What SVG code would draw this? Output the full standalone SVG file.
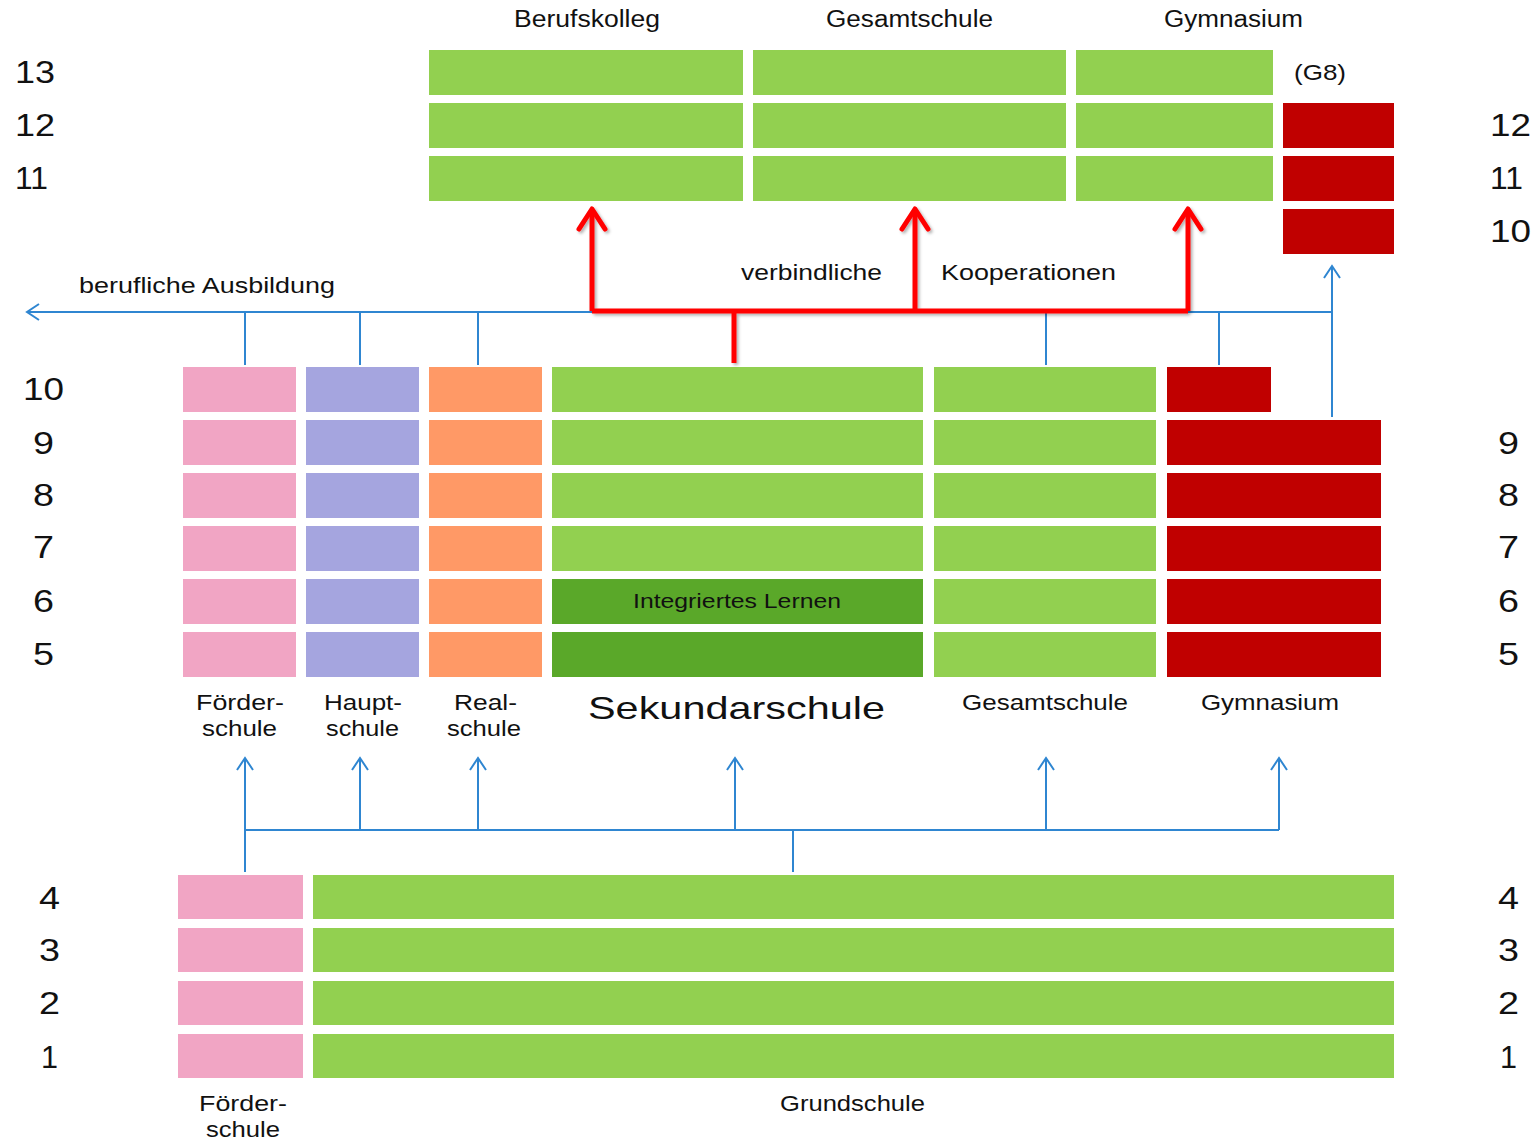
<svg xmlns="http://www.w3.org/2000/svg" width="1539" height="1140" viewBox="0 0 1539 1140">
<style>
text{font-family:"Liberation Sans",Arial,sans-serif;fill:#111}
.num{font-size:31px}
.lbl{font-size:22px}
.top{font-size:23px}
.g{fill:#92D050}
.dg{fill:#5AA829}
.pk{fill:#F1A5C4}
.pu{fill:#A5A5DF}
.or{fill:#FF9966}
.rd{fill:#C00000}
.bl{stroke:#2F86D1;stroke-width:2;fill:none}
.rl{stroke:#FF0000;stroke-width:5;fill:none}
</style>
<defs>
<marker id="ab" markerUnits="userSpaceOnUse" viewBox="-14 -10 16 20" refX="0" refY="0" markerWidth="16" markerHeight="20" orient="auto" overflow="visible">
<path d="M-12,-8 L0,0 L-12,8" fill="none" stroke="#2F86D1" stroke-width="2"/>
</marker>
<marker id="ar" markerUnits="userSpaceOnUse" viewBox="-26 -18 30 36" refX="0" refY="0" markerWidth="30" markerHeight="36" orient="auto" overflow="visible">
<path d="M-20,-13 L0,0 L-20,13" fill="none" stroke="#FF0000" stroke-width="5" stroke-linecap="round" stroke-linejoin="round"/>
</marker>
<filter id="sh" x="-5%" y="-20%" width="110%" height="140%">
<feDropShadow dx="2" dy="2" stdDeviation="1.5" flood-color="#000" flood-opacity="0.3"/>
</filter>
</defs>

<g id="grade-numbers">
<text class="num" x="15" y="83" textLength="40" lengthAdjust="spacingAndGlyphs">13</text>
<text class="num" x="15" y="136" textLength="40" lengthAdjust="spacingAndGlyphs">12</text>
<text class="num" x="15" y="189" textLength="33" lengthAdjust="spacingAndGlyphs">11</text>
<text class="num" x="1490" y="136" textLength="41" lengthAdjust="spacingAndGlyphs">12</text>
<text class="num" x="1490" y="189" textLength="33" lengthAdjust="spacingAndGlyphs">11</text>
<text class="num" x="1490" y="242" textLength="41" lengthAdjust="spacingAndGlyphs">10</text>
<text class="num" x="23" y="400" textLength="41" lengthAdjust="spacingAndGlyphs">10</text>
<text class="num" x="33" y="454" textLength="21" lengthAdjust="spacingAndGlyphs">9</text>
<text class="num" x="33" y="506" textLength="21" lengthAdjust="spacingAndGlyphs">8</text>
<text class="num" x="33" y="558" textLength="21" lengthAdjust="spacingAndGlyphs">7</text>
<text class="num" x="33" y="612" textLength="21" lengthAdjust="spacingAndGlyphs">6</text>
<text class="num" x="33" y="665" textLength="21" lengthAdjust="spacingAndGlyphs">5</text>
<text class="num" x="1498" y="454" textLength="21" lengthAdjust="spacingAndGlyphs">9</text>
<text class="num" x="1498" y="506" textLength="21" lengthAdjust="spacingAndGlyphs">8</text>
<text class="num" x="1498" y="558" textLength="21" lengthAdjust="spacingAndGlyphs">7</text>
<text class="num" x="1498" y="612" textLength="21" lengthAdjust="spacingAndGlyphs">6</text>
<text class="num" x="1498" y="665" textLength="21" lengthAdjust="spacingAndGlyphs">5</text>
<text class="num" x="39" y="909" textLength="21" lengthAdjust="spacingAndGlyphs">4</text>
<text class="num" x="39" y="961" textLength="21" lengthAdjust="spacingAndGlyphs">3</text>
<text class="num" x="39" y="1014" textLength="21" lengthAdjust="spacingAndGlyphs">2</text>
<text class="num" x="41" y="1068" textLength="17" lengthAdjust="spacingAndGlyphs">1</text>
<text class="num" x="1498" y="909" textLength="21" lengthAdjust="spacingAndGlyphs">4</text>
<text class="num" x="1498" y="961" textLength="21" lengthAdjust="spacingAndGlyphs">3</text>
<text class="num" x="1498" y="1014" textLength="21" lengthAdjust="spacingAndGlyphs">2</text>
<text class="num" x="1500" y="1068" textLength="17" lengthAdjust="spacingAndGlyphs">1</text>
</g>

<g id="berufskolleg">
<text class="top" x="514" y="27" textLength="146" lengthAdjust="spacingAndGlyphs">Berufskolleg</text>
<rect class="g" x="429" y="50" width="314" height="45"/>
<rect class="g" x="429" y="103" width="314" height="45"/>
<rect class="g" x="429" y="156" width="314" height="45"/>
</g>
<g id="gesamtschule-oberstufe">
<text class="top" x="826" y="27" textLength="167" lengthAdjust="spacingAndGlyphs">Gesamtschule</text>
<rect class="g" x="753" y="50" width="313" height="45"/>
<rect class="g" x="753" y="103" width="313" height="45"/>
<rect class="g" x="753" y="156" width="313" height="45"/>
</g>
<g id="gymnasium-oberstufe">
<text class="top" x="1164" y="27" textLength="139" lengthAdjust="spacingAndGlyphs">Gymnasium</text>
<rect class="g" x="1076" y="50" width="197" height="45"/>
<rect class="g" x="1076" y="103" width="197" height="45"/>
<rect class="g" x="1076" y="156" width="197" height="45"/>
</g>
<g id="gymnasium-g8">
<text class="lbl" x="1294" y="80" textLength="52" lengthAdjust="spacingAndGlyphs">(G8)</text>
<rect class="rd" x="1283" y="103" width="111" height="45"/>
<rect class="rd" x="1283" y="156" width="111" height="45"/>
<rect class="rd" x="1283" y="209" width="111" height="45"/>
</g>

<g id="foerderschule-sek">
<rect class="pk" x="183" y="367" width="113" height="45"/>
<rect class="pk" x="183" y="420" width="113" height="45"/>
<rect class="pk" x="183" y="473" width="113" height="45"/>
<rect class="pk" x="183" y="526" width="113" height="45"/>
<rect class="pk" x="183" y="579" width="113" height="45"/>
<rect class="pk" x="183" y="632" width="113" height="45"/>
<text class="lbl" x="196" y="710" textLength="88" lengthAdjust="spacingAndGlyphs">Förder-</text>
<text class="lbl" x="202" y="736" textLength="75" lengthAdjust="spacingAndGlyphs">schule</text>
</g>
<g id="hauptschule">
<rect class="pu" x="306" y="367" width="113" height="45"/>
<rect class="pu" x="306" y="420" width="113" height="45"/>
<rect class="pu" x="306" y="473" width="113" height="45"/>
<rect class="pu" x="306" y="526" width="113" height="45"/>
<rect class="pu" x="306" y="579" width="113" height="45"/>
<rect class="pu" x="306" y="632" width="113" height="45"/>
<text class="lbl" x="324" y="710" textLength="78" lengthAdjust="spacingAndGlyphs">Haupt-</text>
<text class="lbl" x="326" y="736" textLength="73" lengthAdjust="spacingAndGlyphs">schule</text>
</g>
<g id="realschule">
<rect class="or" x="429" y="367" width="113" height="45"/>
<rect class="or" x="429" y="420" width="113" height="45"/>
<rect class="or" x="429" y="473" width="113" height="45"/>
<rect class="or" x="429" y="526" width="113" height="45"/>
<rect class="or" x="429" y="579" width="113" height="45"/>
<rect class="or" x="429" y="632" width="113" height="45"/>
<text class="lbl" x="454" y="710" textLength="63" lengthAdjust="spacingAndGlyphs">Real-</text>
<text class="lbl" x="447" y="736" textLength="74" lengthAdjust="spacingAndGlyphs">schule</text>
</g>
<g id="sekundarschule">
<rect class="g" x="552" y="367" width="371" height="45"/>
<rect class="g" x="552" y="420" width="371" height="45"/>
<rect class="g" x="552" y="473" width="371" height="45"/>
<rect class="g" x="552" y="526" width="371" height="45"/>
<rect class="dg" x="552" y="579" width="371" height="45"/>
<rect class="dg" x="552" y="632" width="371" height="45"/>
<text style="font-size:20px" x="633" y="608" textLength="208" lengthAdjust="spacingAndGlyphs">Integriertes Lernen</text>
<text style="font-size:32px" x="588" y="719" textLength="297" lengthAdjust="spacingAndGlyphs">Sekundarschule</text>
</g>
<g id="gesamtschule">
<rect class="g" x="934" y="367" width="222" height="45"/>
<rect class="g" x="934" y="420" width="222" height="45"/>
<rect class="g" x="934" y="473" width="222" height="45"/>
<rect class="g" x="934" y="526" width="222" height="45"/>
<rect class="g" x="934" y="579" width="222" height="45"/>
<rect class="g" x="934" y="632" width="222" height="45"/>
<text class="lbl" x="962" y="710" textLength="166" lengthAdjust="spacingAndGlyphs">Gesamtschule</text>
</g>
<g id="gymnasium">
<rect class="rd" x="1167" y="367" width="104" height="45"/>
<rect class="rd" x="1167" y="420" width="214" height="45"/>
<rect class="rd" x="1167" y="473" width="214" height="45"/>
<rect class="rd" x="1167" y="526" width="214" height="45"/>
<rect class="rd" x="1167" y="579" width="214" height="45"/>
<rect class="rd" x="1167" y="632" width="214" height="45"/>
<text class="lbl" x="1201" y="710" textLength="138" lengthAdjust="spacingAndGlyphs">Gymnasium</text>
</g>

<g id="foerderschule-primar">
<rect class="pk" x="178" y="875" width="125" height="44"/>
<rect class="pk" x="178" y="928" width="125" height="44"/>
<rect class="pk" x="178" y="981" width="125" height="44"/>
<rect class="pk" x="178" y="1034" width="125" height="44"/>
<text class="lbl" x="199" y="1111" textLength="88" lengthAdjust="spacingAndGlyphs">Förder-</text>
<text class="lbl" x="206" y="1137" textLength="74" lengthAdjust="spacingAndGlyphs">schule</text>
</g>
<g id="grundschule">
<rect class="g" x="313" y="875" width="1081" height="44"/>
<rect class="g" x="313" y="928" width="1081" height="44"/>
<rect class="g" x="313" y="981" width="1081" height="44"/>
<rect class="g" x="313" y="1034" width="1081" height="44"/>
<text class="lbl" x="780" y="1111" textLength="145" lengthAdjust="spacingAndGlyphs">Grundschule</text>
</g>

<g id="connectors">
<text class="lbl" x="79" y="293" textLength="256" lengthAdjust="spacingAndGlyphs">berufliche Ausbildung</text>
<text class="lbl" x="741" y="280" textLength="141" lengthAdjust="spacingAndGlyphs">verbindliche</text>
<text class="lbl" x="941" y="280" textLength="175" lengthAdjust="spacingAndGlyphs">Kooperationen</text>
<path class="bl" d="M1332,312 L27,312" marker-end="url(#ab)"/>
<path class="bl" d="M245,312 V365 M360,312 V365 M478,312 V365 M1046,312 V365 M1219,312 V365"/>
<path class="bl" d="M1332,417 V266" marker-end="url(#ab)"/>
<g filter="url(#sh)">
<path class="rl" d="M592,311 H1188"/>
<path class="rl" d="M734,311 V363"/>
<path class="rl" d="M592,311 V209" marker-end="url(#ar)"/>
<path class="rl" d="M915,311 V209" marker-end="url(#ar)"/>
<path class="rl" d="M1188,311 V209" marker-end="url(#ar)"/>
</g>
<path class="bl" d="M245,872 V758" marker-end="url(#ab)"/>
<path class="bl" d="M245,830 H1279"/>
<path class="bl" d="M793,830 V872"/>
<path class="bl" d="M360,830 V758" marker-end="url(#ab)"/>
<path class="bl" d="M478,830 V758" marker-end="url(#ab)"/>
<path class="bl" d="M735,830 V758" marker-end="url(#ab)"/>
<path class="bl" d="M1046,830 V758" marker-end="url(#ab)"/>
<path class="bl" d="M1279,830 V758" marker-end="url(#ab)"/>
</g>
</svg>
